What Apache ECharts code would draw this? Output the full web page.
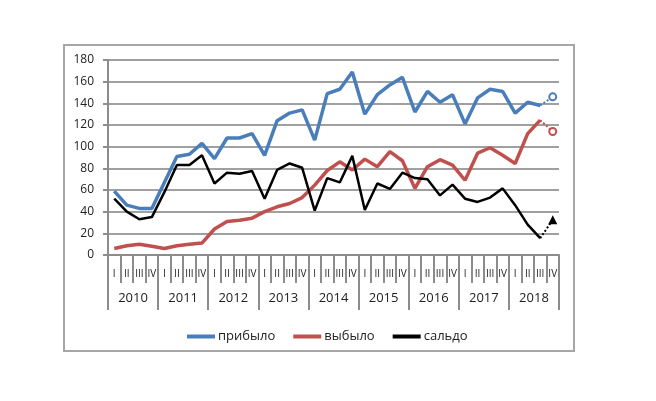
<!DOCTYPE html>
<html>
<head>
<meta charset="utf-8">
<script src="https://cdn.jsdelivr.net/npm/echarts@6/dist/echarts.min.js"></script>
<style>html,body{margin:0;padding:0;background:#fff}#c{width:656px;height:401px}</style>
</head>
<body>
<div id="c"></div>
<script>
var quarters = [];
var years = ['2010','2011','2012','2013','2014','2015','2016','2017','2018'];
var quarterNames = ['I','II','III','IV'];
years.forEach(function(){ quarterNames.forEach(function(q){ quarters.push(q); }); });

var arrived = [59,46,43,43,67,91,93,103,89,108,108,112,92,124,131,134,106,149,153,169,130,148,157,164,132,151,141,148,121,145,153,151,131,141,138,146];
var departed = [6,8.5,10,8,6,8.5,10,11,24,31,32,34,40,44.5,47.5,53,64.5,78,86,78.5,88.5,81.5,95.5,87,61.5,81.5,88,83,69,94,99,92,84.5,112,124.5,114];
var balance = [52,40,33,35,58,83,83,92,66,76,75,77.5,52,78.5,84.5,80.5,41,71,67,91.5,41.5,66,61,76,71,70,55,65,52,49,53,61.5,46,28,15.5,32.5];

var yTicks = {min:0, max:180, interval:20};
var fontFam = '"Open Sans", "Liberation Sans", sans-serif';
var blue = '#4a7ebb', red = '#c0504d', black = '#000000';

function solid(arr){ return arr.map(function(v,i){ return i < arr.length-1 ? v : '-'; }); }
function dotted(arr, sym){ return arr.map(function(v,i){
  if (i < arr.length-2) return '-';
  return i === arr.length-1 ? {value:v, symbol:sym} : {value:v, symbol:'none'};
}); }

var chart = echarts.init(document.getElementById('c'), null, {renderer:'canvas'});
chart.setOption({
  animation:false,
  backgroundColor:'#fff',
  graphic:[{type:'rect', shape:{x:64,y:45,width:510,height:306}, style:{fill:'none', stroke:'#a6a6a6', lineWidth:2}, z:-1}],
  grid:{left:108, right:97, top:60, bottom:146},
  legend:{
    data:['прибыло','выбыло','сальдо'],
    left:182, top:325, itemWidth:28, itemHeight:4, itemGap:18, icon:'rect',
    textStyle:{fontFamily:fontFam, fontSize:13, color:'#222', padding:[0,0,0,-2]}
  },
  xAxis:[{
    type:'category', data:quarters, boundaryGap:true,
    axisLine:{lineStyle:{color:'#8c8c8c', width:2}},
    axisTick:{show:true, interval:0, length:28, lineStyle:{color:'#8c8c8c', width:2}},
    axisLabel:{interval:0, margin:14, fontFamily:fontFam, fontSize:10, color:'#222'},
    splitLine:{show:false}
  },{
    type:'category', data:years, position:'bottom', boundaryGap:true,
    axisLine:{show:false},
    axisTick:{show:true, interval:0, length:55, lineStyle:{color:'#8c8c8c', width:2}},
    axisLabel:{interval:0, margin:37, fontFamily:fontFam, fontSize:13, color:'#222'},
    splitLine:{show:false}
  }],
  yAxis:{
    type:'value', min:yTicks.min, max:yTicks.max, interval:yTicks.interval,
    axisLine:{show:true, lineStyle:{color:'#8c8c8c', width:2}},
    axisTick:{show:true, length:5, lineStyle:{color:'#8c8c8c', width:2}},
    axisLabel:{margin:14, showMaxLabel:true, showMinLabel:true, hideOverlap:false, fontFamily:fontFam, fontSize:12, fontWeight:500, color:'#222'},
    splitLine:{lineStyle:{color:'#a0a0a0', width:2}}
  },
  series:[
    {name:'прибыло', type:'line', data:solid(arrived), symbol:'none', lineStyle:{color:blue, width:3.5}, itemStyle:{color:blue}, z:3},
    {name:'выбыло', type:'line', data:solid(departed), symbol:'none', lineStyle:{color:red, width:3.5}, itemStyle:{color:red}, z:3},
    {name:'сальдо', type:'line', data:solid(balance), symbol:'none', lineStyle:{color:black, width:2.5}, itemStyle:{color:black}, z:3},
    {name:'прибыло_f', type:'line', data:dotted(arrived,'emptyCircle'), symbolSize:7, lineStyle:{color:blue, width:2, type:'dotted'}, itemStyle:{color:blue, borderColor:blue, borderWidth:2}, z:3},
    {name:'выбыло_f', type:'line', data:dotted(departed,'emptyCircle'), symbolSize:7, lineStyle:{color:red, width:2, type:'dotted'}, itemStyle:{color:red, borderColor:red, borderWidth:2}, z:3},
    {name:'сальдо_f', type:'line', data:dotted(balance,'triangle'), symbolSize:9, lineStyle:{color:black, width:2, type:'dotted'}, itemStyle:{color:black}, z:3}
  ]
});
</script>
</body>
</html>
